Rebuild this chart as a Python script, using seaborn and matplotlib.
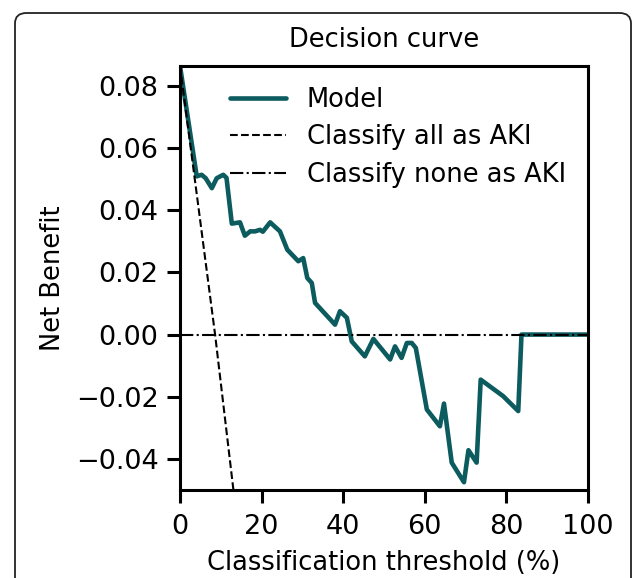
import matplotlib
matplotlib.use("Agg")
import matplotlib.pyplot as plt
from matplotlib.patches import FancyBboxPatch
import seaborn as sns
import pandas as pd

# ---- data ----
model_threshold = [0, 4.1, 5.3, 6.3, 7.8, 9.0, 10.6, 11.4, 12.7, 14.7, 15.9, 17.2, 18.4,
                   19.6, 20.3, 22.1, 24.5, 26.3, 29.0, 30.2, 31.2, 32.3, 33.1, 38.0,
                   39.2, 40.9, 42.1, 45.3, 47.4, 51.5, 52.7, 54.3, 55.6, 56.8, 57.8,
                   60.5, 63.7, 64.7, 66.6, 69.6, 70.7, 72.7, 73.7, 79.2, 82.9, 83.7, 100]
model_benefit = [0.0864, 0.0509, 0.0514, 0.0503, 0.0471, 0.0503, 0.0514, 0.0504, 0.0357,
                 0.0361, 0.0318, 0.0332, 0.0332, 0.0337, 0.0331, 0.0361, 0.0332, 0.0273,
                 0.0236, 0.0246, 0.0182, 0.0166, 0.0102, 0.0032, 0.0075, 0.0054, -0.0022,
                 -0.0070, -0.0014, -0.0080, -0.0038, -0.0075, -0.0027, -0.0027, -0.0043,
                 -0.0241, -0.0295, -0.0222, -0.0412, -0.0475, -0.0372, -0.0412, -0.0145,
                 -0.0198, -0.0246, 0.0, 0.0]
all_threshold = [0, 8.6, 13.5]
all_benefit = [0.0864, 0.0, -0.0545]
none_threshold = [0, 100]
none_benefit = [0.0, 0.0]

labels = ["Model", "Classify all as AKI", "Classify none as AKI"]
xticks = [0, 20, 40, 60, 80, 100]
yticks = [-0.04, -0.02, 0.00, 0.02, 0.04, 0.06, 0.08]

sns.set_style("ticks")
plt.rcParams['font.family'] = ['DejaVu Sans']
plt.rcParams['text.color'] = 'black'
plt.rcParams['axes.labelcolor'] = 'black'
plt.rcParams['xtick.color'] = 'black'
plt.rcParams['ytick.color'] = 'black'

W, H = 633, 578
fig = plt.figure(figsize=(W / 100, H / 100), dpi=100)
fig.patch.set_facecolor("white")

ax = fig.add_axes([180 / W, 1 - 490 / H, (588 - 180) / W, (490 - 66) / H])
ax.set_facecolor("white")

df_model = pd.DataFrame({"t": model_threshold, "nb": model_benefit})
df_all = pd.DataFrame({"t": all_threshold, "nb": all_benefit})
df_none = pd.DataFrame({"t": none_threshold, "nb": none_benefit})

sns.lineplot(data=df_model, x="t", y="nb", ax=ax, color="#0c5b5e", lw=3.3,
             label=labels[0], sort=False)
sns.lineplot(data=df_all, x="t", y="nb", ax=ax, color="black", lw=1.5,
             linestyle="--", label=labels[1], sort=False)
sns.lineplot(data=df_none, x="t", y="nb", ax=ax, color="black", lw=1.5,
             linestyle="-.", label=labels[2], sort=False)

ax.set_xlim(0, 100)
ax.set_ylim(-0.05, 0.0864)
ax.set_xticks(xticks)
ax.set_yticks(yticks)
ax.set_yticklabels([f"{v:.2f}".replace("-", "\u2212") for v in yticks])
ax.tick_params(axis="both", labelsize=19.5, length=9.5, width=2.2, direction="out",
               pad=6, colors="black")
ax.tick_params(axis="x", pad=8)
for s in ax.spines.values():
    s.set_linewidth(2.2)
    s.set_color("black")

ax.set_xlabel("Classification threshold (%)", fontsize=18.5, labelpad=7, color="black")
ax.set_ylabel("Net Benefit", fontsize=18.5, labelpad=7, color="black")
ax.set_title("Decision curve", fontsize=18.5, pad=14, color="black")

leg = ax.legend(loc="upper left", bbox_to_anchor=(0.065, 1.006), frameon=False,
                fontsize=18.5, handlelength=2.2, labelspacing=0.45, handletextpad=0.8)
for t in leg.get_texts():
    t.set_color("black")

# rounded frame around the figure (outline only)
frame = FancyBboxPatch((15 / W, -0.05), (631 - 15) / W, (H - 13) / H + 0.05,
                       boxstyle="round,pad=0,rounding_size=0.018",
                       transform=fig.transFigure, facecolor="none",
                       edgecolor="#222222", linewidth=1.3, zorder=10)
fig.add_artist(frame)

fig.savefig("out.png", dpi=100, facecolor="white")
